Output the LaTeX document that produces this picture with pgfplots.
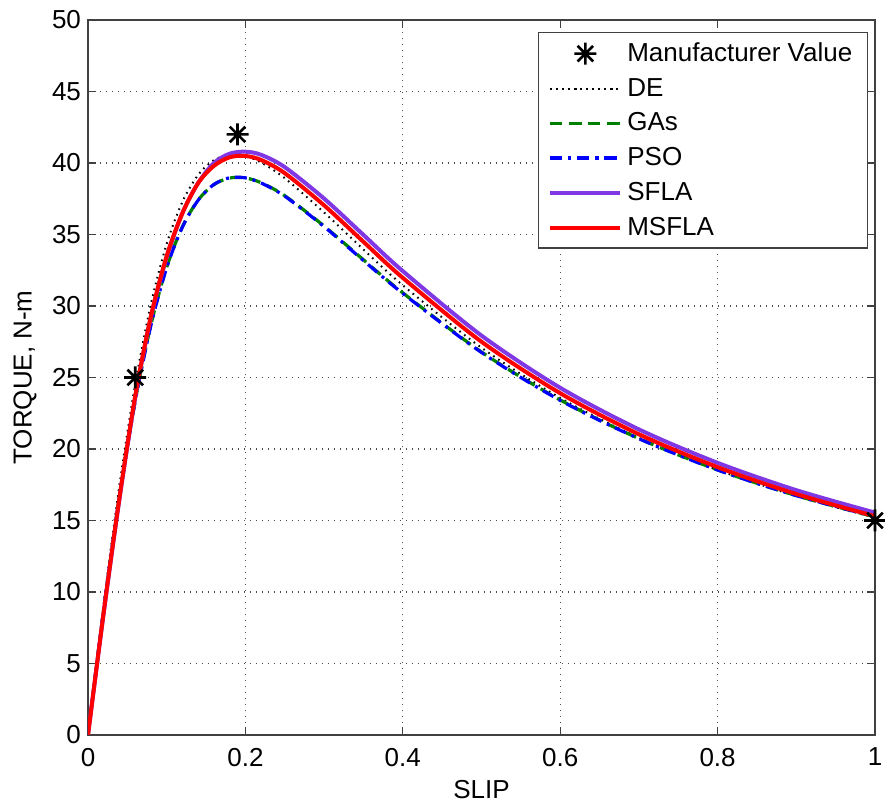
\documentclass[border=0pt]{standalone}
\usepackage{pgfplots}
\pgfplotsset{compat=1.18}
\usepackage{fontspec}
\setmainfont{Liberation Sans}

\definecolor{mgreen}{rgb}{0,0.5,0}
\definecolor{mpurple}{rgb}{0.50,0.22,0.90}

% MATLAB style eight-arm star
\pgfdeclareplotmark{mstar}{%
  \pgfpathmoveto{\pgfqpoint{-\pgfplotmarksize}{0pt}}%
  \pgfpathlineto{\pgfqpoint{\pgfplotmarksize}{0pt}}%
  \pgfpathmoveto{\pgfqpoint{0pt}{-\pgfplotmarksize}}%
  \pgfpathlineto{\pgfqpoint{0pt}{\pgfplotmarksize}}%
  \pgfpathmoveto{\pgfqpoint{-0.707\pgfplotmarksize}{-0.707\pgfplotmarksize}}%
  \pgfpathlineto{\pgfqpoint{0.707\pgfplotmarksize}{0.707\pgfplotmarksize}}%
  \pgfpathmoveto{\pgfqpoint{-0.707\pgfplotmarksize}{0.707\pgfplotmarksize}}%
  \pgfpathlineto{\pgfqpoint{0.707\pgfplotmarksize}{-0.707\pgfplotmarksize}}%
  \pgfusepathqstroke}

% torque-slip data
\pgfplotstableread{
s     T
0.06  25
0.19  42
1.00  15
}\manuf

\pgfplotstableread{
s     T
0.00  0
0.02  9.18
0.04  17.48
0.06  24.53
0.08  30.15
0.10  34.35
0.12  37.29
0.14  39.17
0.16  40.20
0.18  40.58
0.20  40.48
0.22  40.03
0.25  38.94
0.30  36.54
0.35  33.95
0.40  31.45
0.50  27.08
0.60  23.57
0.70  20.78
0.80  18.54
0.90  16.71
1.00  15.20
}\de

\pgfplotstableread{
s     T
0.00  0
0.02  8.80
0.04  16.70
0.06  23.37
0.08  28.70
0.10  32.71
0.12  35.55
0.14  37.41
0.16  38.49
0.18  38.95
0.20  38.95
0.22  38.62
0.25  37.71
0.30  35.59
0.35  33.23
0.40  30.92
0.50  26.78
0.60  23.43
0.70  20.73
0.80  18.54
0.90  16.74
1.00  15.25
}\ga

\pgfplotstableread{
s     T
0.00  0
0.02  8.82
0.04  16.68
0.06  23.35
0.08  28.66
0.10  32.68
0.12  35.52
0.14  37.40
0.16  38.50
0.18  38.97
0.20  38.96
0.22  38.60
0.25  37.68
0.30  35.55
0.35  33.18
0.40  30.88
0.50  26.75
0.60  23.40
0.70  20.72
0.80  18.53
0.90  16.74
1.00  15.26
}\pso

\pgfplotstableread{
s     T
0.00  0
0.02  8.55
0.04  16.50
0.06  23.60
0.08  29.20
0.10  33.40
0.12  36.50
0.14  38.60
0.16  40.00
0.18  40.65
0.20  40.79
0.22  40.57
0.25  39.71
0.30  37.51
0.35  34.97
0.40  32.44
0.50  27.93
0.60  24.28
0.70  21.37
0.80  19.03
0.90  17.12
1.00  15.55
}\sfla

\pgfplotstableread{
s     T
0.00  0
0.02  8.60
0.04  16.60
0.06  23.70
0.08  29.30
0.10  33.50
0.12  36.50
0.14  38.60
0.16  39.80
0.18  40.40
0.20  40.49
0.22  40.21
0.25  39.29
0.30  37.04
0.35  34.49
0.40  31.97
0.50  27.50
0.60  23.90
0.70  21.03
0.80  18.73
0.90  16.85
1.00  15.30
}\msfla

\begin{document}
\begin{tikzpicture}
\begin{axis}[
    scale only axis,
    width=393.5pt, height=357.5pt,
    xmin=0, xmax=1, ymin=0, ymax=50,
    xtick={0,0.2,...,1}, ytick={0,5,...,50},
    tick align=inside,
    xtick pos=both, ytick pos=both,
    major tick length=4pt,
    axis line style={black!75, line width=0.8pt},
    tick style={black!75, line width=0.6pt},
    grid=major,
    major grid style={black!70, line width=0.6pt, dash pattern=on 0.6pt off 2.4pt},
    font=\fontsize{13}{15}\selectfont,
    /pgf/number format/assume math mode=true,
    xticklabel style={yshift=-3pt},
    xlabel={SLIP}, ylabel={TORQUE, N-m},
    xlabel style={at={(rel axis cs:0.5,0)}, anchor=center, yshift=-27.5pt},
    ylabel style={at={(rel axis cs:0,0.5)}, anchor=center, yshift=31.5pt},
    clip marker paths=false,
    legend cell align=left,
    legend image code/.code={%
        \draw[mark repeat=2, mark phase=2]
        plot coordinates {(0pt,0pt) (17.5pt,0pt) (35pt,0pt)};},
    legend style={at={(0.991,0.983)}, anchor=north east,
        draw=black!75, line width=0.6pt, inner xsep=5pt, inner ysep=2.5pt,
        row sep=1.8pt, font=\fontsize{13}{15}\selectfont,
        nodes={inner xsep=2.5pt, inner ysep=2.5pt}},
]
\addlegendimage{only marks, mark=mstar, mark size=5.5pt, line width=1.3pt, black}
\addlegendentry{Manufacturer Value}
\addplot[black, line width=1pt, dash pattern=on 0.8pt off 2.2pt, smooth] table {\de};
\addlegendentry{DE}
\addplot[mgreen, line width=1.6pt, dash pattern=on 6pt off 3.5pt, smooth] table {\ga};
\addlegendentry{GAs}
\addplot[blue, line width=1.6pt, dash pattern=on 6pt off 3pt on 1.5pt off 3pt, smooth] table {\pso};
\addlegendentry{PSO}
\addplot[mpurple, line width=2pt, smooth] table {\sfla};
\addlegendentry{SFLA}
\addplot[red, line width=2pt, smooth] table {\msfla};
\addlegendentry{MSFLA}
\addplot[only marks, mark=mstar, mark size=5.5pt, line width=1.3pt, black, forget plot] table {\manuf};
\end{axis}
\pgfresetboundingbox
\path (current axis.south west) +(-44pt,-36pt) (current axis.north east) +(5pt,10pt);
\end{tikzpicture}
\end{document}
